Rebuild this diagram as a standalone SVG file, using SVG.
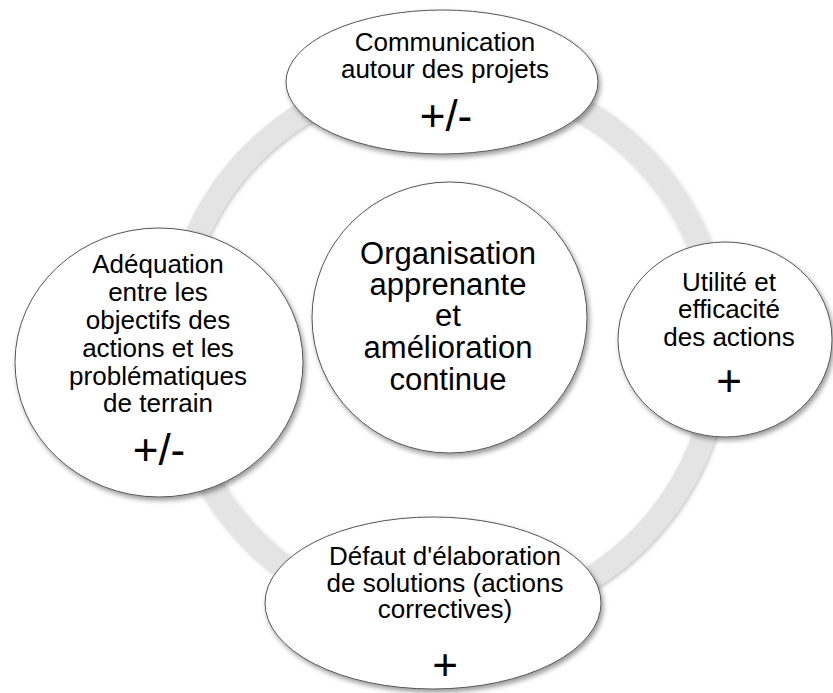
<svg xmlns="http://www.w3.org/2000/svg" width="833" height="693" viewBox="0 0 833 693">
<defs>
<filter id="sh" x="-10%" y="-10%" width="125%" height="130%">
<feDropShadow dx="2" dy="3" stdDeviation="2.5" flood-color="#000" flood-opacity="0.4"/>
</filter>
<filter id="rsh" x="-10%" y="-10%" width="120%" height="120%">
<feDropShadow dx="1" dy="2" stdDeviation="2" flood-color="#000" flood-opacity="0.25"/>
</filter>
</defs>
<style>
.node{fill:#ffffff;stroke:#555555;stroke-width:1;filter:url(#sh)}
.t{font-family:"Liberation Sans",Arial,sans-serif;font-size:26px;fill:#000;text-anchor:middle}
.c{font-family:"Liberation Sans",Arial,sans-serif;font-size:31px;fill:#000;text-anchor:middle}
.s{font-family:"Liberation Sans",Arial,sans-serif;font-size:44px;fill:#000;text-anchor:middle}
</style>
<rect width="833" height="693" fill="#ffffff"/>
<g id="connectors">
<circle cx="446" cy="346" r="273" fill="none" stroke="#e4e4e4" stroke-width="23" filter="url(#rsh)"/>
</g>
<g id="center">
<ellipse class="node" cx="449.5" cy="317.5" rx="137.5" ry="135.5"/>
<text class="c" x="448" y="264">Organisation</text>
<text class="c" x="448" y="295">apprenante</text>
<text class="c" x="448" y="326">et</text>
<text class="c" x="448" y="358">amélioration</text>
<text class="c" x="448" y="390">continue</text>
</g>
<g id="top">
<ellipse class="node" cx="442" cy="82" rx="156" ry="72"/>
<text class="t" x="445" y="51">Communication</text>
<text class="t" x="445" y="78">autour des projets</text>
<text class="s" x="446" y="131">+/-</text>
</g>
<g id="left">
<ellipse class="node" cx="159" cy="362.5" rx="144" ry="134.5"/>
<text class="t" x="158" y="273">Adéquation</text>
<text class="t" x="158" y="301">entre les</text>
<text class="t" x="158" y="328.5">objectifs des</text>
<text class="t" x="158" y="356.5">actions et les</text>
<text class="t" x="158" y="384.5">problématiques</text>
<text class="t" x="158" y="412">de terrain</text>
<text class="s" x="159" y="465">+/-</text>
</g>
<g id="right">
<ellipse class="node" cx="725" cy="339.5" rx="107" ry="97.5"/>
<text class="t" x="729" y="290.5">Utilité et</text>
<text class="t" x="729" y="318">efficacité</text>
<text class="t" x="729" y="346">des actions</text>
<text class="s" x="729" y="396">+</text>
</g>
<g id="bottom">
<ellipse class="node" cx="433" cy="603" rx="168" ry="86"/>
<text class="t" x="445" y="565">Défaut d'élaboration</text>
<text class="t" x="445" y="591.5">de solutions (actions</text>
<text class="t" x="445" y="618">correctives)</text>
<text class="s" x="445" y="680">+</text>
</g>
</svg>
